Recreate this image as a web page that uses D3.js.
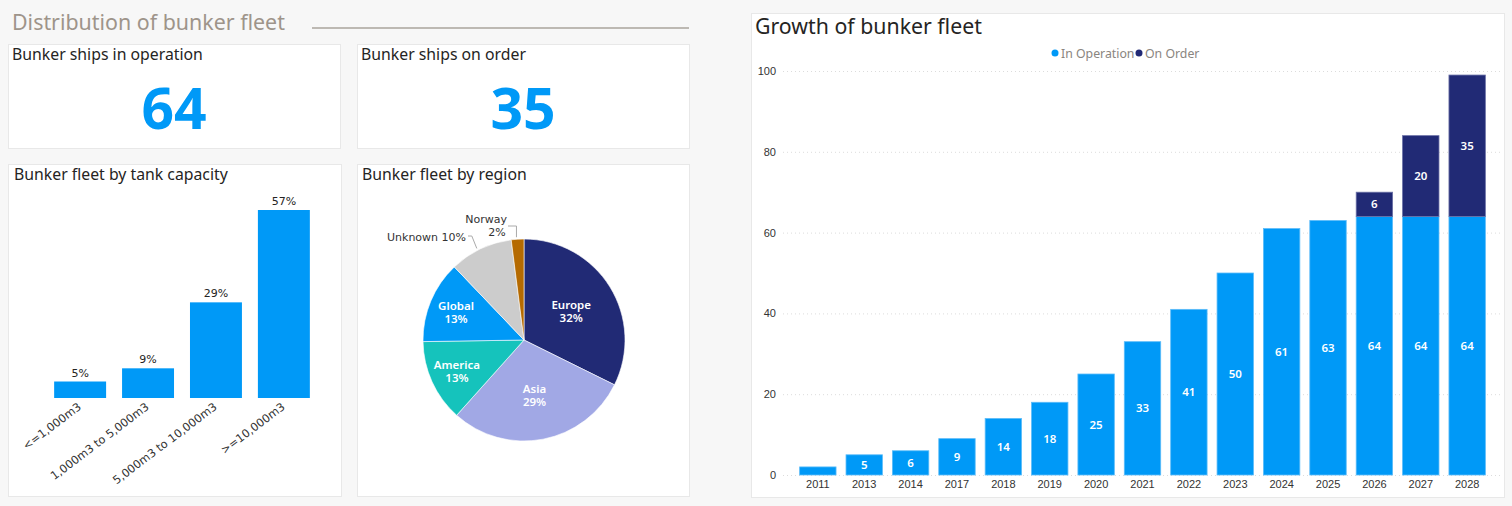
<!DOCTYPE html>
<html>
<head>
<meta charset="utf-8">
<script src="https://cdn.jsdelivr.net/npm/d3@7.9.0/dist/d3.min.js"></script>
<style>
  html, body { margin: 0; padding: 0; background: #f7f7f7; }
  svg { display: block; font-family: "Noto Sans", "Open Sans", sans-serif; }
  .wide { font-family: "DejaVu Sans", Verdana, sans-serif; }
</style>
</head>
<body>
<svg id="dash" width="1512" height="506"></svg>
<script>
// ---- data ----
const kpiLabels = ["Bunker ships in operation", "Bunker ships on order"];
const kpiValues = [64, 35];

const capacityCats = ["<=1,000m3", "1,000m3 to 5,000m3", "5,000m3 to 10,000m3", ">=10,000m3"];
const capacityPct = [5, 9, 29, 57];

const regionNames = ["Europe", "Asia", "America", "Global", "Unknown", "Norway"];
const regionPct = [32, 29, 13, 13, 10, 2];
const regionColors = ["#212a75", "#a1a8e5", "#15c3bc", "#0099f7", "#cccccc", "#b56a00"];

const years = ["2011", "2013", "2014", "2017", "2018", "2019", "2020", "2021", "2022", "2023", "2024", "2025", "2026", "2027", "2028"];
const inOperation = [2, 5, 6, 9, 14, 18, 25, 33, 41, 50, 61, 63, 64, 64, 64];
const onOrder = [0, 0, 0, 0, 0, 0, 0, 0, 0, 0, 0, 0, 6, 20, 35];
const seriesNames = ["In Operation", "On Order"];
const seriesColors = ["#0099f7", "#212a75"];
const yTicks = [0, 20, 40, 60, 80, 100];

const svg = d3.select("#dash");

function card(x, y, w, h) {
  return svg.append("rect")
    .attr("x", x + 0.5).attr("y", y + 0.5)
    .attr("width", w).attr("height", h)
    .attr("fill", "#fff").attr("stroke", "#e8e8e8");
}

// ---- section header ----
svg.append("text")
  .attr("x", 12).attr("y", 30)
  .attr("font-size", 21.4).attr("fill", "#9e948a")
  .text("Distribution of bunker fleet");
svg.append("line")
  .attr("x1", 312).attr("x2", 689).attr("y1", 28).attr("y2", 28)
  .attr("stroke", "#aaa49c").attr("stroke-width", 1.5);

// ---- KPI cards ----
const kpiX = [8, 357];
kpiLabels.forEach((label, i) => {
  card(kpiX[i], 44, 332, 104);
  svg.append("text")
    .attr("x", kpiX[i] + 4).attr("y", 60)
    .attr("font-size", 15.8).attr("fill", "#252423")
    .text(label);
  svg.append("text")
    .attr("x", kpiX[i] + 166).attr("y", 129)
    .attr("text-anchor", "middle")
    .attr("font-size", 57).attr("font-weight", "bold").attr("fill", "#0099f7")
    .text(kpiValues[i]);
});

// ---- tank capacity bars ----
card(8, 164, 333, 332);
svg.append("text")
  .attr("x", 14).attr("y", 180)
  .attr("font-size", 15.8).attr("fill", "#252423")
  .text("Bunker fleet by tank capacity");

const capX = d3.scaleBand().domain(capacityCats).range([46, 318]).paddingInner(0.235).paddingOuter(0.12);
const capY = d3.scaleLinear().domain([0, 57]).range([398, 210]);

const capG = svg.append("g");
capG.selectAll("rect")
  .data(capacityCats)
  .join("rect")
  .attr("x", (d) => capX(d))
  .attr("width", capX.bandwidth())
  .attr("y", (d, i) => capY(capacityPct[i]))
  .attr("height", (d, i) => capY(0) - capY(capacityPct[i]))
  .attr("fill", "#0099f7");

capG.selectAll("text.val")
  .data(capacityCats)
  .join("text")
  .attr("class", "val wide")
  .attr("x", (d) => capX(d) + capX.bandwidth() / 2)
  .attr("y", (d, i) => capY(capacityPct[i]) - 5)
  .attr("text-anchor", "middle")
  .attr("font-size", 11).attr("fill", "#252423")
  .text((d, i) => capacityPct[i] + "%");

const capAxis = svg.append("g")
  .attr("transform", "translate(0,398)")
  .call(d3.axisBottom(capX).tickSize(0).tickPadding(0));
capAxis.select(".domain").remove();
capAxis.selectAll("text")
  .attr("font-family", null)
  .attr("class", "wide")
  .attr("font-size", 11.3).attr("fill", "#333")
  .attr("text-anchor", "end")
  .attr("dy", null)
  .attr("transform", "translate(-3,4) rotate(-37)")
  .attr("dominant-baseline", "hanging");

// ---- region pie ----
card(357, 164, 332, 332);
svg.append("text")
  .attr("x", 362).attr("y", 180)
  .attr("font-size", 15.8).attr("fill", "#252423")
  .text("Bunker fleet by region");

const cx = 524, cy = 340, radius = 101;
const pie = d3.pie().sort(null).value((d, i) => regionPct[i]);
const arcs = pie(regionNames);
const arc = d3.arc().innerRadius(0).outerRadius(radius);
const pieG = svg.append("g").attr("transform", `translate(${cx},${cy})`);
pieG.selectAll("path")
  .data(arcs)
  .join("path")
  .attr("d", arc)
  .attr("fill", (d) => regionColors[d.index])
  .attr("stroke", "#fff").attr("stroke-width", 0.6);

// big slices get their label nearer the centre, small ones further out
function labelPos(d) {
  const share = (d.endAngle - d.startAngle) / (2 * Math.PI);
  const r = share > 0.2 ? radius * 0.55 : radius * 0.73;
  return d3.arc().innerRadius(r).outerRadius(r).centroid(d);
}
const inside = arcs.slice(0, 4);
const insideLabels = pieG.selectAll("text.in")
  .data(inside)
  .join("text")
  .attr("class", "in")
  .attr("transform", (d) => `translate(${labelPos(d)})`)
  .attr("text-anchor", "middle")
  .attr("font-size", 11.5).attr("font-weight", 600).attr("fill", "#fff");
insideLabels.append("tspan").attr("x", 0).attr("dy", "-0.15em").text((d) => d.data);
insideLabels.append("tspan").attr("x", 0).attr("dy", "1.15em").text((d) => regionPct[d.index] + "%");

// outside labels with leader lines
const uArc = arcs[4], nArc = arcs[5];
const edge = d3.arc().innerRadius(radius + 2).outerRadius(radius + 2);
const uEdge = edge.centroid({ startAngle: uArc.startAngle, endAngle: uArc.endAngle + (uArc.startAngle - uArc.endAngle) * 0.1 });
const nEdge = edge.centroid(nArc);

pieG.append("path")
  .attr("d", `M${uEdge[0]},${uEdge[1]} L${uEdge[0] - 5},${-104} L${-56},${-104}`)
  .attr("fill", "none").attr("stroke", "#aaa");
pieG.append("text")
  .attr("class", "wide")
  .attr("x", -58).attr("y", -99)
  .attr("text-anchor", "end")
  .attr("font-size", 11).attr("fill", "#333")
  .text(regionNames[4] + " " + regionPct[4] + "%");

pieG.append("path")
  .attr("d", `M${nEdge[0] - 1},${nEdge[1]} L${nEdge[0] - 1},${-114} L${-16},${-114}`)
  .attr("fill", "none").attr("stroke", "#aaa");
pieG.append("text")
  .attr("class", "wide")
  .attr("x", -17).attr("y", -117)
  .attr("text-anchor", "end")
  .attr("font-size", 11).attr("fill", "#333")
  .call((t) => {
    t.append("tspan").attr("x", -17).attr("dy", 0).text(regionNames[5]);
    t.append("tspan").attr("x", -27).attr("dy", "1.15em").attr("text-anchor", "middle").text(regionPct[5] + "%");
  });

// ---- growth stacked bars ----
card(751, 13, 753, 484);
svg.append("text")
  .attr("x", 755).attr("y", 34)
  .attr("font-size", 21.3).attr("fill", "#252423")
  .text("Growth of bunker fleet");

// legend
const legend = svg.append("g").attr("transform", "translate(1055,53)");
const legX = [0, 84];
seriesNames.forEach((name, i) => {
  legend.append("circle").attr("cx", legX[i]).attr("cy", 0).attr("r", 3.5).attr("fill", seriesColors[i]);
  legend.append("text").attr("x", legX[i] + 6).attr("y", 4.5)
    .attr("font-size", 12.3).attr("fill", "#8a8580").text(name);
});

const gx = d3.scaleBand().domain(years).range([795, 1490]).paddingInner(0.215).paddingOuter(0.1);
const gy = d3.scaleLinear().domain([0, 100]).range([475, 71]);

const grid = svg.append("g")
  .attr("transform", "translate(783,0)")
  .call(d3.axisLeft(gy).tickValues(yTicks).tickSize(-717).tickFormat(""));
grid.select(".domain").remove();
grid.selectAll("line").attr("stroke", "#dcdcdc").attr("stroke-dasharray", "1,3");

const yAx = svg.append("g")
  .attr("transform", "translate(776,0)")
  .call(d3.axisLeft(gy).tickValues(yTicks).tickSize(0).tickPadding(0));
yAx.select(".domain").remove();
yAx.selectAll("text").attr("font-family", null).attr("font-size", 11).attr("fill", "#333");

const stackData = years.map((y, i) => ({ year: y, op: inOperation[i], ord: onOrder[i] }));
const stack = d3.stack().keys(["op", "ord"])(stackData);

const layers = svg.append("g").selectAll("g")
  .data(stack)
  .join("g")
  .attr("fill", (d, i) => seriesColors[i])
  .attr("stroke", (d, i) => (i === 0 ? "#5cbcf9" : "#6a70a6"))
  .attr("stroke-width", 0.8);

layers.selectAll("rect")
  .data((d) => d.filter((p) => p[1] > p[0]))
  .join("rect")
  .attr("x", (d) => gx(d.data.year))
  .attr("width", gx.bandwidth())
  .attr("y", (d) => gy(d[1]))
  .attr("height", (d) => gy(d[0]) - gy(d[1]));

layers.selectAll("text")
  .data((d) => d.filter((p) => p[1] - p[0] >= 4))
  .join("text")
  .attr("x", (d) => gx(d.data.year) + gx.bandwidth() / 2)
  .attr("y", (d) => (gy(d[0]) + gy(d[1])) / 2 + 4)
  .attr("text-anchor", "middle")
  .attr("stroke", "none").attr("fill", "#fff")
  .attr("font-size", 11.5).attr("font-weight", 600)
  .text((d) => d[1] - d[0]);

const xAx = svg.append("g")
  .attr("transform", "translate(0,475)")
  .call(d3.axisBottom(gx).tickSize(0).tickPadding(5));
xAx.select(".domain").remove();
xAx.selectAll("text").attr("font-family", null).attr("font-size", 11).attr("fill", "#333");
</script>
</body>
</html>
